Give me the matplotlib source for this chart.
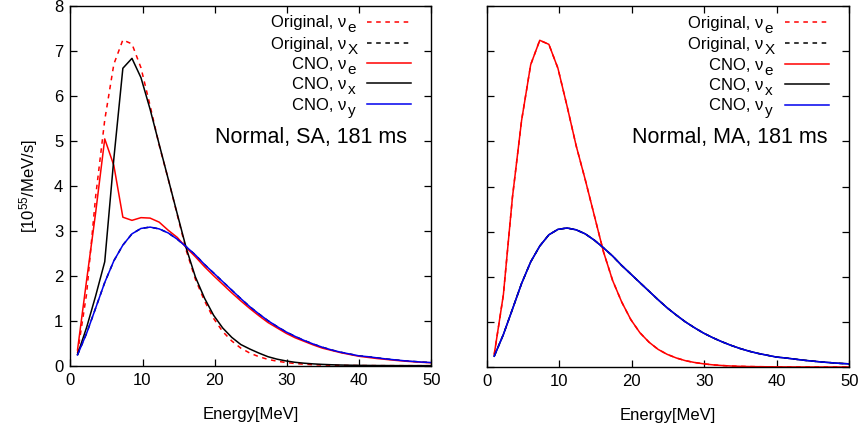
import matplotlib
matplotlib.use("Agg")
import matplotlib.pyplot as plt
from matplotlib.lines import Line2D

plt.rcParams['font.family'] = ['Liberation Sans', 'DejaVu Sans']
plt.rcParams['mathtext.fontset'] = 'custom'
plt.rcParams['mathtext.rm'] = 'Liberation Sans'
plt.rcParams['mathtext.it'] = 'Liberation Sans:italic'
plt.rcParams['mathtext.bf'] = 'Liberation Sans:bold'

# ---------------- data ----------------
energy = [1.00, 2.26, 3.51, 4.77, 6.03, 7.28, 8.54, 9.79, 11.05, 12.31,
          13.56, 14.82, 16.08, 17.33, 18.59, 19.85, 21.10, 22.36, 23.62, 24.87,
          26.13, 27.38, 28.64, 29.90, 31.15, 32.41, 33.67, 34.92, 36.18, 37.44,
          38.69, 39.95, 41.21, 42.46, 43.72, 44.97, 46.23, 47.49, 48.74, 50.00]

orig_nue = [0.28, 1.60, 3.76, 5.46, 6.70, 7.24, 7.15, 6.62, 5.78, 4.90,
            4.15, 3.35, 2.55, 1.92, 1.44, 1.05, 0.76, 0.55, 0.39, 0.28,
            0.20, 0.14, 0.10, 0.07, 0.048, 0.033, 0.022, 0.015, 0.010, 0.007,
            0.005, 0.0035, 0.0024, 0.0016, 0.0011, 0.0008, 0.0005, 0.0004, 0.0003, 0.0002]

orig_nux = [0.24, 0.72, 1.28, 1.85, 2.33, 2.68, 2.93, 3.05, 3.08, 3.04,
            2.95, 2.81, 2.64, 2.46, 2.25, 2.06, 1.87, 1.68, 1.49, 1.31,
            1.15, 1.00, 0.87, 0.75, 0.65, 0.56, 0.48, 0.41, 0.35, 0.30,
            0.26, 0.22, 0.20, 0.175, 0.15, 0.13, 0.11, 0.095, 0.08, 0.07]

sa_cno_nue = [0.35, 1.90, 3.40, 5.04, 4.45, 3.30, 3.23, 3.29, 3.28, 3.19,
              3.01, 2.85, 2.62, 2.42, 2.20, 2.00, 1.81, 1.62, 1.44, 1.27,
              1.11, 0.96, 0.84, 0.72, 0.62, 0.54, 0.46, 0.39, 0.34, 0.29,
              0.25, 0.21, 0.185, 0.16, 0.14, 0.12, 0.102, 0.088, 0.075, 0.064]

sa_cno_nux = [0.25, 0.85, 1.55, 2.31, 4.60, 6.61, 6.83, 6.40, 5.70, 4.92,
              4.15, 3.37, 2.60, 1.97, 1.50, 1.12, 0.84, 0.63, 0.47, 0.37,
              0.28, 0.20, 0.145, 0.105, 0.075, 0.055, 0.040, 0.029, 0.021, 0.015,
              0.011, 0.008, 0.006, 0.004, 0.003, 0.002, 0.0015, 0.001, 0.0008, 0.0006]

sa_cno_nuy = orig_nux

ma_cno_nue = orig_nue
ma_cno_nux = orig_nux
ma_cno_nuy = orig_nux

panel_titles = ['Normal, SA, 181 ms', 'Normal, MA, 181 ms']
legend_main = ['Original, ν', 'Original, ν', 'CNO, ν', 'CNO, ν', 'CNO, ν']
legend_subs = ['e', 'X', 'e', 'x', 'y']
xticks = [0, 10, 20, 30, 40, 50]
yticks = [0, 1, 2, 3, 4, 5, 6, 7, 8]

# ---------------- style ----------------
RED = '#ff0000'
BLK = '#000000'
BLU = '#0000ee'
styles = [dict(color=RED, ls=(0, (3, 3))), dict(color=BLK, ls=(0, (3, 3))),
          dict(color=RED, ls='-'), dict(color=BLK, ls='-'), dict(color=BLU, ls='-')]
LW = 1.1

fig = plt.figure(figsize=(8.64, 4.26), dpi=100)
W, H = 864.0, 426.0
axL = fig.add_axes([70.3 / W, (H - 365.7) / H, 361.0 / W, 360.0 / H])
axR = fig.add_axes([487.0 / W, (H - 367.0) / H, 362.3 / W, 361.0 / H])

panels = [
    (axL, [orig_nue, orig_nux, sa_cno_nue, sa_cno_nux, sa_cno_nuy], panel_titles[0], 0.933, 0.618, 0.764),
    (axR, [orig_nue, orig_nux, ma_cno_nue, ma_cno_nux, ma_cno_nuy], panel_titles[1], 0.941, 0.620, 0.762),
]

row_y = [0.9556, 0.897, 0.840, 0.784, 0.727]

for i, (ax, series, title, tx, ty, lx) in enumerate(panels):
    for s, st in zip(series, styles):
        ax.plot(energy, s, lw=LW, **st)
    ax.set_xlim(0, 50)
    ax.set_ylim(0, 8)
    ax.set_xticks(xticks)
    ax.set_yticks(yticks)
    ax.tick_params(direction='in', length=5, width=0.9, top=True, right=True,
                   labelsize=12, pad=5)
    if i == 1:
        ax.set_yticklabels([])
    for sp in ax.spines.values():
        sp.set_linewidth(1.0)
    ax.set_xlabel('Energy[MeV]', fontsize=12, labelpad=14)
    # gnuplot-style legend: right-aligned labels with samples on the right
    for lab, sub, st, yy in zip(legend_main, legend_subs, styles, row_y):
        ax.text(lx, yy - 0.016, lab, transform=ax.transAxes, ha='right',
                va='baseline', fontsize=12)
        ax.text(lx + 0.004, yy - 0.030, sub, transform=ax.transAxes, ha='left',
                va='baseline', fontsize=11)
        ax.add_line(Line2D([0.822, 0.945], [yy, yy], transform=ax.transAxes,
                           lw=LW, **st))
    ax.text(tx, ty, title, transform=ax.transAxes, ha='right', va='baseline',
            fontsize=15.5)

axL.set_ylabel('[10$^{55}$/MeV/s]', fontsize=12, labelpad=10)

fig.savefig('out.png', dpi=100)
